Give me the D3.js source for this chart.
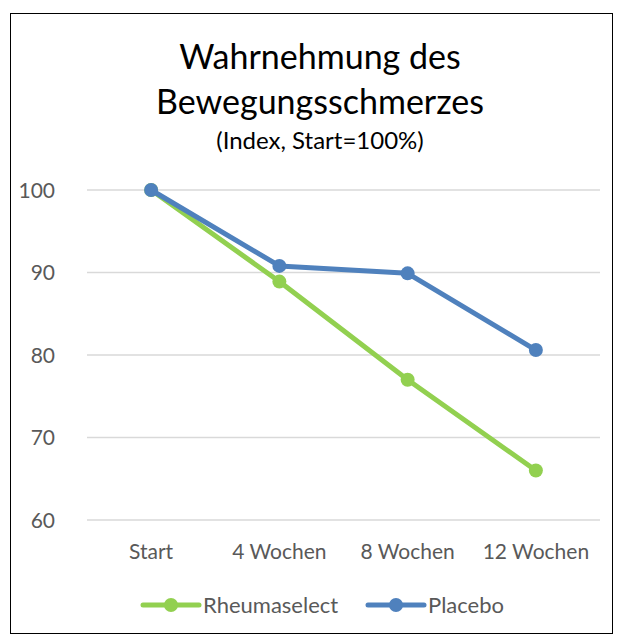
<!DOCTYPE html>
<html>
<head>
<meta charset="utf-8">
<script src="https://cdn.jsdelivr.net/npm/d3@7"></script>
<style>
    body { margin: 0; background: #fff; }
    svg text { font-family: Lato, "Open Sans", sans-serif; }
</style>
</head>
<body>
<div id="chart"></div>
<script>
// Chart data
const categories = ["Start", "4 Wochen", "8 Wochen", "12 Wochen"];
const rheumaselect = [100, 88.9, 77.0, 66.0];
const placebo = [100, 90.8, 89.9, 80.6];
const yTicks = [60, 70, 80, 90, 100];

const series = [
    { name: "Rheumaselect", values: rheumaselect, color: "#92D050" },
    { name: "Placebo", values: placebo, color: "#4F81BD" }
];

const width = 623, height = 637;
const margin = { top: 190, right: 23, bottom: 117, left: 87 };

const svg = d3.select("#chart")
    .append("svg")
    .attr("width", width)
    .attr("height", height);

// Chart border
svg.append("rect")
    .attr("x", 10.5).attr("y", 13.5)
    .attr("width", 602).attr("height", 620)
    .attr("fill", "none")
    .attr("stroke", "#000")
    .attr("stroke-width", 1);

// Scales
const x = d3.scaleBand()
    .domain(categories)
    .range([margin.left, width - margin.right]);

const y = d3.scaleLinear()
    .domain([60, 100])
    .range([height - margin.bottom, margin.top]);

// Gridlines
svg.append("g")
    .selectAll("line")
    .data(yTicks)
    .enter()
    .append("line")
    .attr("x1", margin.left)
    .attr("x2", width - margin.right)
    .attr("y1", d => y(d))
    .attr("y2", d => y(d))
    .attr("stroke", "#d9d9d9")
    .attr("stroke-width", 1.5);

// Y axis labels
const yAxis = svg.append("g")
    .attr("transform", `translate(${margin.left - 32},0)`)
    .call(d3.axisLeft(y).tickValues(yTicks).tickSize(0).tickPadding(0));
yAxis.select(".domain").remove();
yAxis.selectAll("text")
    .attr("fill", "#595959")
    .style("font-size", "21px")
    .attr("dy", "0.35em");

// X axis labels
const xAxis = svg.append("g")
    .attr("transform", `translate(0,${height - margin.bottom})`)
    .call(d3.axisBottom(x).tickSize(0).tickPadding(24));
xAxis.select(".domain").remove();
xAxis.selectAll("text")
    .attr("fill", "#595959")
    .style("font-size", "21px");

// Lines and markers
const line = d3.line()
    .x((d, i) => x(categories[i]) + x.bandwidth() / 2)
    .y(d => y(d));

series.forEach(s => {
    svg.append("path")
        .datum(s.values)
        .attr("d", line)
        .attr("fill", "none")
        .attr("stroke", s.color)
        .attr("stroke-width", 5)
        .attr("stroke-linejoin", "round");

    svg.append("g")
        .selectAll("circle")
        .data(s.values)
        .enter()
        .append("circle")
        .attr("cx", (d, i) => x(categories[i]) + x.bandwidth() / 2)
        .attr("cy", d => y(d))
        .attr("r", 7)
        .attr("fill", s.color);
});

// Title
const title = svg.append("text")
    .attr("text-anchor", "middle")
    .attr("fill", "#000");
title.append("tspan").attr("x", 320).attr("y", 69).style("font-size", "34px").text("Wahrnehmung des");
title.append("tspan").attr("x", 320).attr("y", 114).style("font-size", "34px").text("Bewegungsschmerzes");
title.append("tspan").attr("x", 320).attr("y", 149).style("font-size", "24px").text("(Index, Start=100%)");

// Legend
const legendX = [143, 368];
const legend = svg.append("g")
    .selectAll("g")
    .data(series)
    .enter()
    .append("g")
    .attr("transform", (d, i) => `translate(${legendX[i]},605)`);

legend.append("line")
    .attr("x1", 0).attr("x2", 56)
    .attr("stroke", d => d.color)
    .attr("stroke-width", 5)
    .attr("stroke-linecap", "round");
legend.append("circle")
    .attr("cx", 28).attr("r", 7)
    .attr("fill", d => d.color);
legend.append("text")
    .attr("x", 60)
    .attr("dy", "0.35em")
    .attr("fill", "#595959")
    .style("font-size", "22px")
    .text(d => d.name);
</script>
</body>
</html>
